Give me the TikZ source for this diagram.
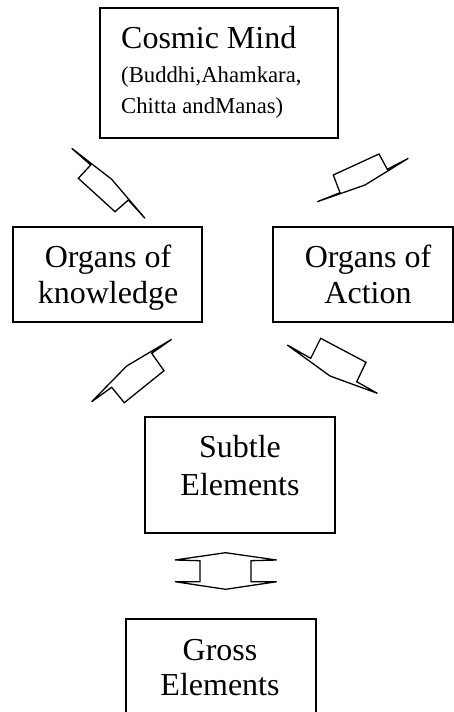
\documentclass[tikz,border=0pt]{standalone}
\usepackage{fontspec}
\setmainfont{Liberation Serif}
\begin{document}
\begin{tikzpicture}[x=1pt,y=-1pt,
  box/.style={draw,line width=1.6pt,inner sep=0pt,outer sep=0pt},
  big/.style={font=\fontsize{32}{36}\selectfont,inner sep=0pt,anchor=base},
  small/.style={font=\fontsize{22.7}{30}\selectfont,inner sep=0pt,anchor=base west},
  blockarrow/.style={draw,line width=1.3pt,fill=white}]
\clip (0,0) rectangle (454,712);
\useasboundingbox (0,0) rectangle (454,712);
% boxes
\node[box,minimum width=238pt,minimum height=130pt] (cosmic) at (219,73) {};
\node[box,minimum width=189pt,minimum height=95pt] (know) at (107.5,274.5) {};
\node[box,minimum width=180pt,minimum height=95pt] (action) at (363,274.5) {};
\node[box,minimum width=190pt,minimum height=116pt] (subtle) at (240,475) {};
\node[box,minimum width=190pt,minimum height=121pt] (gross) at (221,679.5) {};
% texts
\node[big,anchor=base west] (c1) at (121,48) {Cosmic Mind};
\node[small] (c2) at (121,82.5) {(Buddhi,Ahamkara,};
\node[small] (c3) at (121,113.5) {Chitta andManas)};
\node[big] (k1) at (108,267) {Organs of};
\node[big] (k2) at (108,303) {knowledge};
\node[big] (a1) at (368,267) {Organs of};
\node[big] (a2) at (368,303) {Action};
\node[big] (s1) at (240,457) {Subtle};
\node[big] (s2) at (240,495) {Elements};
\node[big] (g1) at (220,660) {Gross};
\node[big] (g2) at (220,695) {Elements};
% block arrows
\draw[blockarrow] (71.7,148.3) -- (111.7,179.3) -- (145,218.3) -- (128.3,200) -- (115,211.7) -- (78.3,178.3) -- (90.7,165) -- cycle;
\draw[blockarrow] (317.3,201.7) -- (365,185) -- (408.3,158.3) -- (387.3,169.3) -- (379,154) -- (333.3,175) -- (340,192.7) -- cycle;
\draw[blockarrow] (171.7,339.3) -- (126.7,366) -- (91.7,401.7) -- (111.7,387.3) -- (124.3,402.7) -- (164,370.7) -- (151.7,353.3) -- cycle;
\draw[blockarrow] (287.3,345) -- (330,376) -- (377.3,393.3) -- (356.7,381.7) -- (366,362.3) -- (320.7,338.3) -- (310.7,358.3) -- cycle;
\draw[blockarrow] (175,560) -- (225.5,552.7) -- (276.7,560) -- (251,560.7) -- (251,581.7) -- (276.7,581.7) -- (225.5,589.3) -- (175,581.7) -- (200,581.7) -- (200,560.7) -- cycle;
\end{tikzpicture}
\end{document}
